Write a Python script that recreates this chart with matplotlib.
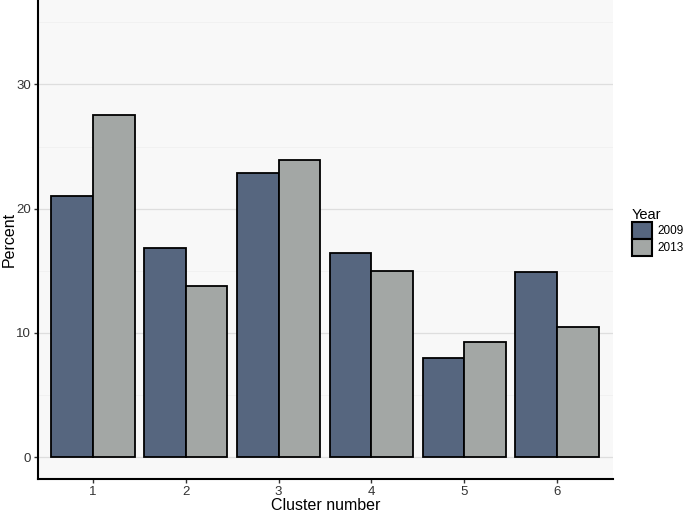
import matplotlib
matplotlib.use("Agg")
import matplotlib.pyplot as plt
import numpy as np
from matplotlib.patches import Patch

plt.rcParams['font.family'] = ['Liberation Sans', 'DejaVu Sans']

clusters = ["1", "2", "3", "4", "5", "6"]
years = ["2009", "2013"]
values_2009 = [21.0, 16.8, 22.9, 16.4, 8.0, 14.9]
values_2013 = [27.5, 13.75, 23.9, 15.0, 9.3, 10.5]
colors = ["#56667f", "#a3a7a5"]

fig = plt.figure(figsize=(6.85, 5.11), dpi=100)
ax_w = (613 - 38) / 685
ax_h = 479 / 511
ax = fig.add_axes([38/685, 32/511, ax_w, ax_h])
ax.set_facecolor("#f8f8f8")

x = np.arange(1, len(clusters) + 1)
w = 0.45
ax.bar(x - w/2, values_2009, width=w, color=colors[0], edgecolor="black", linewidth=1.3, zorder=3)
ax.bar(x + w/2, values_2013, width=w, color=colors[1], edgecolor="black", linewidth=1.3, zorder=3)

ax.set_xlim(0.41, 6.6)
ax.set_ylim(-1.77, 36.8)
ax.set_xticks(x)
ax.set_xticklabels(clusters)
ax.set_yticks([0, 10, 20, 30])
ax.set_yticks([5, 15, 25, 35], minor=True)
ax.yaxis.grid(True, which="major", color="#dedede", linewidth=0.9, zorder=0)
ax.yaxis.grid(True, which="minor", color="#f0f0f0", linewidth=0.6, zorder=0)
ax.tick_params(axis="y", which="minor", length=0)
ax.tick_params(axis="both", which="major", labelsize=9.5, length=3, width=1, pad=2,
               color="#333333", labelcolor="#333333")

for s in ["top", "right"]:
    ax.spines[s].set_visible(False)
for s in ["left", "bottom"]:
    ax.spines[s].set_linewidth(1.5)
    ax.spines[s].set_color("black")

ax.set_xlabel("Cluster number", fontsize=11.5, va="center")
ax.xaxis.set_label_coords(0.5, -(505 - 479) / (ax_h * 511))
ax.set_ylabel("Percent", fontsize=11.5, va="center")
ax.yaxis.set_label_coords(-(38 - 9) / (ax_w * 685), (479 - 239) / (ax_h * 511))

handles = [Patch(facecolor=colors[i], edgecolor="black", linewidth=1.5, label=years[i]) for i in range(2)]
leg = fig.legend(handles=handles, title="Year", loc="upper left", bbox_to_anchor=(632/685, 1 - 208/511),
                 frameon=False, fontsize=8.5, title_fontsize=10.5, handlelength=1.7, handleheight=1.8,
                 handletextpad=0.45, labelspacing=0.02, borderaxespad=0, borderpad=0)
leg._legend_box.align = "left"

fig.savefig("out.png", dpi=100)
